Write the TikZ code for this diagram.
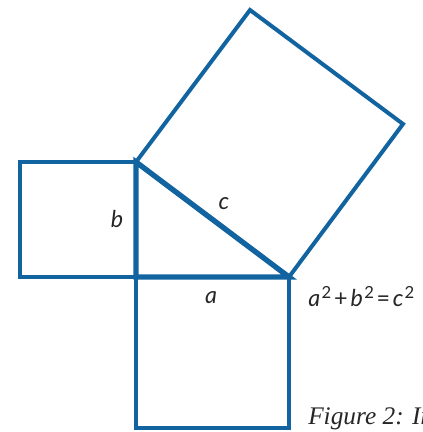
\documentclass[tikz,border=0pt]{standalone}
\usepackage{fontspec}
\setmainfont{Liberation Serif}
\newfontfamily\labfont{Lato}
\definecolor{sqblue}{RGB}{18,100,160}
\newcommand{\supii}{\raisebox{0.33em}{\upshape\fontsize{12.5}{13}\selectfont 2}}
\begin{document}
\begin{tikzpicture}[x=0.75pt,y=-0.75pt,
  sq/.style={draw=sqblue,line width=3pt,line join=miter},
  tri/.style={draw=sqblue,line width=4pt,line join=miter},
  lab/.style={font=\labfont\itshape\fontsize{17.5}{20}\selectfont,inner sep=0pt,text=black!85},
  figcap/.style={font=\itshape\fontsize{19}{22}\selectfont,inner sep=0pt,text=black!85}]
\useasboundingbox (0,0) rectangle (422,432);
% vertices
\coordinate (R) at (136,277);
\coordinate (B) at (136,162);
\coordinate (C) at (289,277);
\coordinate (T) at (250,10);
\coordinate (S) at (403,124);
\coordinate (bl1) at (20,162);
\coordinate (bl2) at (20,277);
\coordinate (al1) at (136,428);
\coordinate (al2) at (289,428);
% squares
\draw[sq] (bl1) -- (B) -- (R) -- (bl2) -- cycle;
\draw[sq] (R) -- (C) -- (al2) -- (al1) -- cycle;
\draw[sq] (B) -- (T) -- (S) -- (C) -- cycle;
% triangle
\draw[tri] (B) -- (R) -- (C) -- cycle;
% labels
\node[lab] (lb) at (117,219) {b};
\node[lab] (lc) at (224,204) {c};
\node[lab] (la) at (211,298) {a};
\node[lab,anchor=base west] (eq) at (308,306)
  {a\hspace{1pt}\supii\hspace{2.2pt}{\upshape+}\hspace{2.2pt}b\hspace{1pt}\supii\hspace{2pt}{\upshape=}\hspace{2pt}c\hspace{1pt}\supii};
\node[figcap,anchor=base west] (fig) at (308,424) {Figure 2: In};
\end{tikzpicture}
\end{document}
